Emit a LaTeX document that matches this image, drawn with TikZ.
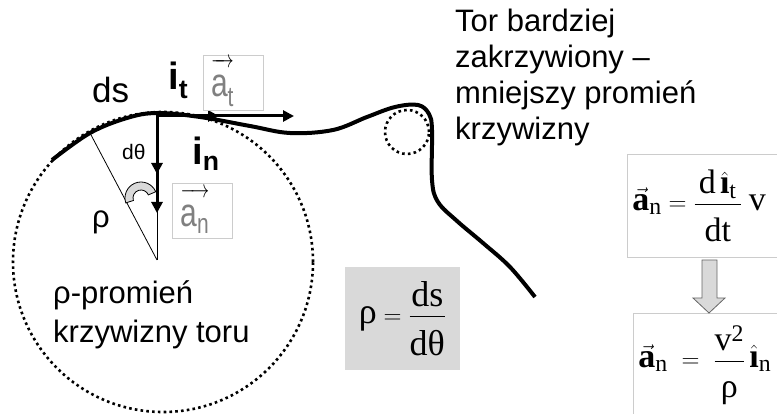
\documentclass[tikz,border=0pt]{standalone}
\usepackage{amsmath}
\usepackage{fontspec}
\setmainfont{Liberation Sans}
\newfontfamily\timesfam{Liberation Serif}
\usetikzlibrary{arrows.meta}
\definecolor{boxgray}{gray}{0.85}
\definecolor{rulegray}{gray}{0.8}
\definecolor{labgray}{gray}{0.5}
\newcommand{\Fs}[2]{\fontsize{#1}{#2}\selectfont}
\newcommand{\Tm}[1]{\text{\timesfam #1}}
\newcommand{\Tb}[1]{\text{\timesfam\bfseries #1}}
\newcommand{\Vlab}[1]{\scalebox{0.75}[1]{$\overrightarrow{\textcolor{labgray}{\text{a}_\text{#1}}\vphantom{\text{d}}}$}}
\tikzset{
  track/.style={line width=4pt, line join=round},
  orbit/.style={line width=2.6pt, dash pattern=on 2.6pt off 3.2pt},
  radial/.style={line width=0.8pt},
  unitvec/.style={line width=3pt, -{Triangle[length=11pt,width=11pt]}},
  lbl/.style={inner sep=0pt, anchor=base west, font=\Fs{31}{38}},
  vecbox/.style={draw=rulegray, line width=0.8pt, inner ysep=0pt, inner xsep=8pt,
    text width=44pt, align=left, minimum height=55pt, font=\Fs{40}{46}},
  fbox/.style={draw=rulegray, line width=0.8pt, fill=white, inner xsep=5pt,
    inner ysep=0pt, align=left, text width=170pt, font=\Fs{34}{40}},
}

\begin{document}
\begin{tikzpicture}[x=1pt,y=-1pt]
\clip (0,0) rectangle (777,414);
% circles of curvature and the track
\draw[orbit] (163,262) circle[radius=150pt];
\draw[orbit] (407,132) circle[radius=22pt];
\draw[track] plot[smooth,tension=0.6] coordinates {(52,160) (90,133) (127,118)
  (157,113) (200,117) (250,126) (290,133) (333,130) (367,117) (395,107)
  (418,105) (429,114) (432,130) (432,180) (438,202) (457,221) (483,243)
  (510,267) (535,297)};
%
\coordinate (P) at (157,113);
\coordinate (T) at (157,116);
\coordinate (O) at (157,260);
\coordinate (Q) at (90,133);
\coordinate (th) at (141,198);
\coordinate (tipIt) at (219,116);
\coordinate (tipAt) at (294,116);
\coordinate (tipIn) at (157,174);
\coordinate (tipAn) at (157,213);
\draw[radial] (P) -- (O);
\draw[radial] (Q) -- (O);
\draw[line width=0.8pt, fill=boxgray] ([shift={(23:16pt)}]th)
  arc[start angle=23, end angle=198, radius=16pt]
  -- ([shift={(198:8pt)}]th) arc[start angle=198, end angle=23, radius=8pt] -- cycle;
\draw[unitvec] (T) -- (tipAt);
\draw[unitvec] (T) -- (tipIt);
\draw[unitvec] (P) -- (tipAn);
\draw[unitvec] (P) -- (tipIn);
%
\node (ds) [lbl, font=\Fs{35}{42}] at (92,103) {ds};
\node (it) [lbl, font=\Fs{38}{44}\bfseries] at (168,90) {i\textsubscript{t}};
\node (at) [vecbox] at (233,82.5) {\Vlab{t}};
\node (dth) [lbl, font=\Fs{21}{25}] at (122,160) {dθ};
\node (in) [lbl, font=\Fs{38}{44}\bfseries] at (192,165) {i\textsubscript{n}};
\node (an) [vecbox] at (202.5,211) {\Vlab{n}};
\node (rlbl) [lbl] at (92,228) {ρ};
\node (radius) [lbl, align=left, font=\Fs{31}{39}] at (53,342) {ρ-promień\\krzywizny toru};
\node (note) [lbl, align=left, font=\Fs{31}{36.3}] at (455,140)
  {Tor bardziej\\zakrzywiony –\\mniejszy promień\\krzywizny};
%
\node (rho) [fill=boxgray, minimum width=115pt, minimum height=103pt, inner sep=0pt,
  font=\Fs{36}{42}] at (402.5,318.5)
  {$\Tm{ρ}=\dfrac{\Tm{ds}}{\Tm{dθ}\rule{0pt}{35pt}}$};
\node (dadt) [fbox, anchor=north west, minimum height=103pt] at (627,154)
  {$\vec{\Tb{a}}_{\Tm{n}}=\dfrac{\,\Tm{d}\,\hat{\Tb{ı}}_{\Tm{t}}\,}{\Tm{dt}\rule{0pt}{33pt}}\;\Tm{v}$};
\node (vrho) [fbox, anchor=north west, minimum height=104pt] at (633,313)
  {$\vec{\Tb{a}}_{\Tm{n}}\;=\;\dfrac{\Tm{v}^{\Tm{2}}}{\Tm{ρ}\rule{0pt}{33pt}}\,\hat{\Tb{ı}}_{\Tm{n}}$};
\draw[draw=black!60, line width=0.8pt, fill=boxgray] (702,260) -- (717,260) -- (717,298)
  -- (725,298) -- (709,313) -- (693,298) -- (702,298) -- cycle;
\end{tikzpicture}
\end{document}
